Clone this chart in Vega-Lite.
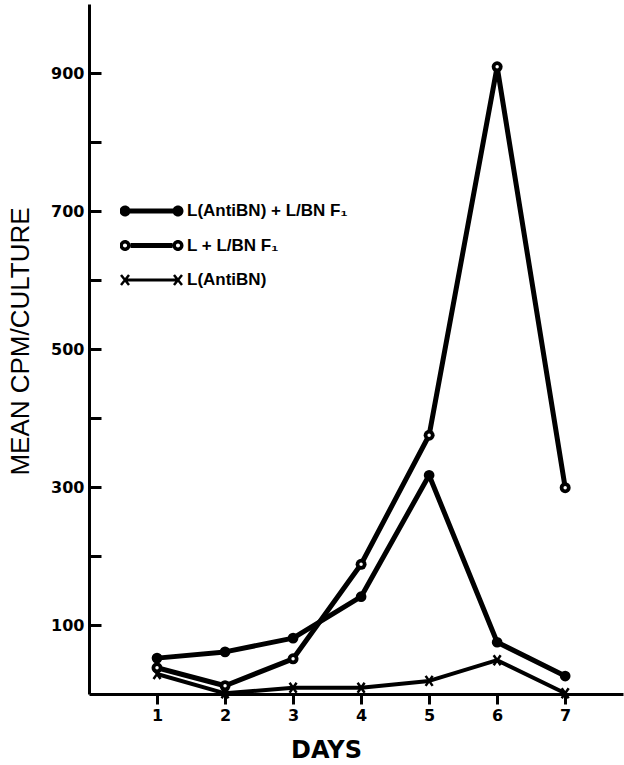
{
  "$schema": "https://vega.github.io/schema/vega-lite/v6.json",
  "width": 534,
  "height": 690,
  "autosize": {"type": "none"},
  "padding": {"left": 89, "top": 4, "right": 1, "bottom": 71},
  "background": "white",
  "config": {
    "view": {"stroke": null},
    "axis": {"grid": false, "domainColor": "black", "domainWidth": 3, "tickColor": "black", "tickWidth": 3, "labelColor": "black", "titleColor": "black"}
  },
  "data": {
    "values": [
      {"day": 1, "cpm": 52, "series": "L(AntiBN) + L/BN F₁"},
      {"day": 2, "cpm": 61, "series": "L(AntiBN) + L/BN F₁"},
      {"day": 3, "cpm": 81, "series": "L(AntiBN) + L/BN F₁"},
      {"day": 4, "cpm": 141, "series": "L(AntiBN) + L/BN F₁"},
      {"day": 5, "cpm": 317, "series": "L(AntiBN) + L/BN F₁"},
      {"day": 6, "cpm": 75, "series": "L(AntiBN) + L/BN F₁"},
      {"day": 7, "cpm": 26, "series": "L(AntiBN) + L/BN F₁"},
      {"day": 1, "cpm": 38, "series": "L + L/BN F₁"},
      {"day": 2, "cpm": 12, "series": "L + L/BN F₁"},
      {"day": 3, "cpm": 51, "series": "L + L/BN F₁"},
      {"day": 4, "cpm": 188, "series": "L + L/BN F₁"},
      {"day": 5, "cpm": 375, "series": "L + L/BN F₁"},
      {"day": 6, "cpm": 909, "series": "L + L/BN F₁"},
      {"day": 7, "cpm": 299, "series": "L + L/BN F₁"},
      {"day": 1, "cpm": 29, "series": "L(AntiBN)"},
      {"day": 2, "cpm": 1, "series": "L(AntiBN)"},
      {"day": 3, "cpm": 9, "series": "L(AntiBN)"},
      {"day": 4, "cpm": 9, "series": "L(AntiBN)"},
      {"day": 5, "cpm": 19, "series": "L(AntiBN)"},
      {"day": 6, "cpm": 49, "series": "L(AntiBN)"},
      {"day": 7, "cpm": 1, "series": "L(AntiBN)"}
    ]
  },
  "encoding": {
    "x": {
      "field": "day", "type": "quantitative",
      "scale": {"domain": [0, 7.85], "nice": false, "zero": false},
      "axis": {
        "values": [1, 2, 3, 4, 5, 6, 7], "format": "d",
        "title": "DAYS", "titleFont": "DejaVu Sans", "titleFontWeight": "bold", "titleFontSize": 24,
        "titleX": 237, "titleY": 56, "titleBaseline": "middle", "titleAlign": "center",
        "labelFont": "DejaVu Sans", "labelFontWeight": "bold", "labelFontSize": 16,
        "tickSize": 10, "labelPadding": 3
      }
    },
    "y": {
      "field": "cpm", "type": "quantitative",
      "scale": {"domain": [0, 1000], "nice": false},
      "axis": {
        "values": [100, 200, 300, 400, 500, 600, 700, 800, 900],
        "labelExpr": "datum.value % 200 === 100 ? datum.label : ''",
        "labelFont": "DejaVu Sans", "labelFontWeight": "bold", "labelFontSize": 16,
        "tickSize": -12, "labelPadding": 17,
        "title": "MEAN CPM/CULTURE", "titleFont": "Liberation Sans", "titleFontWeight": "normal", "titleFontSize": 26,
        "titleX": -69, "titleY": 337, "titleAngle": -90, "titleAlign": "center", "titleBaseline": "middle"
      }
    }
  },
  "layer": [
    {
      "transform": [{"filter": "datum.series !== 'L(AntiBN)'"}],
      "mark": {"type": "line", "strokeJoin": "round", "strokeCap": "butt", "strokeWidth": 5, "color": "black"},
      "encoding": {"detail": {"field": "series", "type": "nominal"}}
    },
    {
      "transform": [{"filter": "datum.series === 'L(AntiBN)'"}],
      "mark": {"type": "line", "strokeJoin": "round", "strokeCap": "butt", "strokeWidth": 4, "color": "black"}
    },
    {
      "mark": {"type": "point", "filled": true, "opacity": 0, "strokeWidth": 0},
      "encoding": {
        "fill": {
          "field": "series", "type": "nominal",
          "scale": {"domain": ["L(AntiBN) + L/BN F₁", "L + L/BN F₁", "L(AntiBN)"], "range": ["black", "black", "black"]},
          "legend": {
            "title": null, "orient": "none", "legendX": 31, "legendY": 190, "padding": 0,
            "clipHeight": 34, "rowPadding": 0.5, "symbolOffset": 0, "labelOffset": 4, "symbolSize": 3969,
            "symbolStrokeWidth": 0, "symbolOpacity": 1, "symbolFillColor": "black",
            "labelFont": "Liberation Sans", "labelFontWeight": "bold", "labelFontSize": 17, "labelLimit": 400, "labelColor": "black",
            "encode": {
              "symbols": {
                "update": {
                  "shape": {"signal": "datum.value === 'L(AntiBN)' ? 'M-0.841,-0.0476L0.841,-0.0476L0.841,0.0476L-0.841,0.0476Z M-0.937,-0.1835L-0.683,0.134L-0.745,0.1835L-0.999,-0.134Z M-0.683,-0.134L-0.937,0.1835L-0.999,0.134L-0.745,-0.1835Z M0.745,-0.1835L0.999,0.134L0.937,0.1835L0.683,-0.134Z M0.999,-0.134L0.745,0.1835L0.683,0.134L0.937,-0.1835Z' : datum.value === 'L + L/BN F₁' ? 'M-0.666,-0.079L0.666,-0.079L0.666,0.079L-0.666,0.079Z M-1.016,0A0.175,0.175,0,1,1,-0.666,0A0.175,0.175,0,1,1,-1.016,0Z M-0.905,0A0.0635,0.0635,0,1,0,-0.777,0A0.0635,0.0635,0,1,0,-0.905,0Z M0.666,0A0.175,0.175,0,1,1,1.016,0A0.175,0.175,0,1,1,0.666,0Z M0.777,0A0.0635,0.0635,0,1,0,0.905,0A0.0635,0.0635,0,1,0,0.777,0Z' : 'M-0.841,-0.079L0.841,-0.079L0.841,0.079L-0.841,0.079Z M-1.016,0A0.175,0.175,0,1,1,-0.666,0A0.175,0.175,0,1,1,-1.016,0Z M0.666,0A0.175,0.175,0,1,1,1.016,0A0.175,0.175,0,1,1,0.666,0Z'"},
                  "size": {"value": 3969},
                  "opacity": {"value": 1},
                  "strokeWidth": {"value": 0}
                }
              }
            }
          }
        }
      }
    },
    {
      "transform": [{"filter": "datum.series === 'L(AntiBN) + L/BN F₁'"}],
      "mark": {"type": "circle", "size": 115, "color": "black", "opacity": 1}
    },
    {
      "transform": [{"filter": "datum.series === 'L + L/BN F₁'"}],
      "mark": {"type": "circle", "size": 120, "color": "black", "opacity": 1}
    },
    {
      "transform": [{"filter": "datum.series === 'L + L/BN F₁'"}],
      "mark": {"type": "circle", "size": 12, "color": "white", "opacity": 1}
    },
    {
      "transform": [{"filter": "datum.series === 'L(AntiBN)'"}],
      "mark": {"type": "point", "shape": "M-0.7,-1L0.7,1M0.7,-1L-0.7,1", "size": 100, "stroke": "black", "strokeWidth": 2.5, "filled": false, "opacity": 1}
    }
  ]
}
